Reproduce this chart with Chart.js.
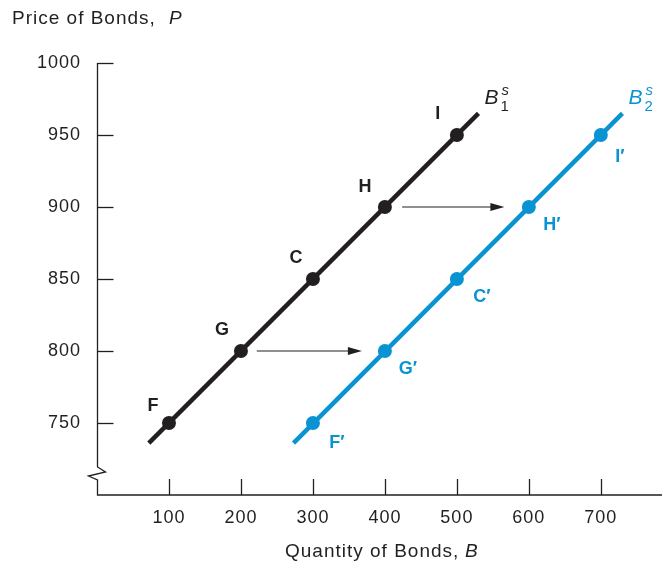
<!DOCTYPE html>
<html>
<head>
<meta charset="utf-8">
<script src="https://cdn.jsdelivr.net/npm/chart.js@4"></script>
<style>
  html, body { margin: 0; padding: 0; background: #fff; }
  #wrap { width: 662px; height: 565px; }
</style>
</head>
<body>
<div id="wrap"><canvas id="myChart" width="662" height="565"></canvas></div>
<script>
// bond supply shift: B1s -> B2s
const prices = [750, 800, 850, 900, 950];
const quantity1 = [100, 200, 300, 400, 500];
const quantity2 = [300, 400, 500, 600, 700];
const labels1 = ['F', 'G', 'C', 'H', 'I'];
const labels2 = ['F\u2032', 'G\u2032', 'C\u2032', 'H\u2032', 'I\u2032'];
const line1Ends = [{ x: 72, y: 736 }, { x: 530, y: 965 }];
const line2Ends = [{ x: 273, y: 736 }, { x: 730, y: 965 }];
const arrowFrom = [222, 424];
const arrowTo = [368, 566];
const arrowPrice = [800, 900];
const xTicks = [100, 200, 300, 400, 500, 600, 700];
const yTicks = [750, 800, 850, 900, 950, 1000];

const BLACK = '#231f20';
const BLUE = '#0a93d3';
const FONT = '"Liberation Sans", Arial, Helvetica, sans-serif';

const pts1 = quantity1.map((q, i) => ({ x: q, y: prices[i] }));
const pts2 = quantity2.map((q, i) => ({ x: q, y: prices[i] }));

const overlay = {
  id: 'overlay',
  beforeDraw(chart) {
    chart.ctx.letterSpacing = '1px';
  },
  beforeDatasetsDraw(chart) {
    const ctx = chart.ctx;
    const xs = chart.scales.x, ys = chart.scales.y;
    const a = chart.chartArea;
    ctx.save();
    ctx.strokeStyle = BLACK;
    ctx.lineWidth = 1.3;
    // y axis with break
    const x0 = a.left + 0.5;
    ctx.beginPath();
    ctx.moveTo(x0, a.top);
    ctx.lineTo(x0, 467);
    ctx.lineTo(x0 + 8, 472);
    ctx.lineTo(x0 - 9, 476);
    ctx.lineTo(x0, 480);
    ctx.lineTo(x0, a.bottom);
    ctx.lineTo(a.right, a.bottom);
    ctx.stroke();
    // y ticks (inside)
    yTicks.forEach(v => {
      const y = Math.round(ys.getPixelForValue(v)) + 0.5;
      ctx.beginPath();
      ctx.moveTo(x0, y);
      ctx.lineTo(x0 + 16, y);
      ctx.stroke();
    });
    xTicks.forEach(v => {
      const x = Math.round(xs.getPixelForValue(v)) + 0.5;
      ctx.beginPath();
      ctx.moveTo(x, a.bottom);
      ctx.lineTo(x, a.bottom - 16);
      ctx.stroke();
    });
    // arrows
    ctx.lineWidth = 1.2;
    ctx.fillStyle = BLACK;
    arrowPrice.forEach((p, i) => {
      const y = ys.getPixelForValue(p);
      const xa = xs.getPixelForValue(arrowFrom[i]);
      const xb = xs.getPixelForValue(arrowTo[i]);
      ctx.beginPath();
      ctx.moveTo(xa, y);
      ctx.lineTo(xb - 10, y);
      ctx.stroke();
      ctx.beginPath();
      ctx.moveTo(xb, y);
      ctx.lineTo(xb - 14, y - 4);
      ctx.lineTo(xb - 14, y + 4);
      ctx.closePath();
      ctx.fill();
    });
    ctx.restore();
  },
  afterDraw(chart) {
    const ctx = chart.ctx;
    const xs = chart.scales.x, ys = chart.scales.y;
    ctx.save();
    ctx.letterSpacing = '1px';
    ctx.fillStyle = BLACK;
    ctx.textBaseline = 'alphabetic';
    ctx.textAlign = 'left';
    // axis titles
    ctx.font = '19px ' + FONT;
    ctx.fillText('Price of Bonds,', 12, 24);
    ctx.font = 'italic 19px ' + FONT;
    ctx.fillText('P', 169, 24);
    ctx.font = '19px ' + FONT;
    ctx.fillText('Quantity of Bonds,', 285, 557);
    ctx.font = 'italic 19px ' + FONT;
    ctx.fillText('B', 465, 557);

    // point labels
    ctx.letterSpacing = '0px';
    ctx.textAlign = 'center';
    ctx.textBaseline = 'middle';
    ctx.font = 'bold 18px ' + FONT;
    const off1 = [[-16, -17], [-19, -21], [-17, -21], [-20, -20], [-19, -21]];
    const off2 = [[24, 20], [23, 18], [25, 18], [23, 18], [19, 22]];
    pts1.forEach((p, i) => {
      ctx.fillStyle = BLACK;
      ctx.fillText(labels1[i], xs.getPixelForValue(p.x) + off1[i][0], ys.getPixelForValue(p.y) + off1[i][1]);
    });
    pts2.forEach((p, i) => {
      ctx.fillStyle = BLUE;
      ctx.fillText(labels2[i], xs.getPixelForValue(p.x) + off2[i][0], ys.getPixelForValue(p.y) + off2[i][1]);
    });

    // curve labels B^s_1, B^s_2
    const curveLabel = (sub, color, end) => {
      const x = xs.getPixelForValue(end.x) + 6;
      const y = ys.getPixelForValue(end.y) - 9;
      ctx.fillStyle = color;
      ctx.textAlign = 'left';
      ctx.textBaseline = 'alphabetic';
      ctx.font = 'italic 21px ' + FONT;
      ctx.fillText('B', x, y);
      ctx.font = 'italic 15px ' + FONT;
      ctx.fillText('s', x + 17, y - 9);
      ctx.font = '15px ' + FONT;
      ctx.fillText(sub, x + 16, y + 7);
    };
    curveLabel('1', BLACK, line1Ends[1]);
    curveLabel('2', BLUE, line2Ends[1]);
    ctx.restore();
  }
};

const ctx = document.getElementById('myChart').getContext('2d');
const myChart = new Chart(ctx, {
  type: 'scatter',
  data: {
    datasets: [
      { data: line1Ends, showLine: true, borderColor: BLACK, borderWidth: 4.5, pointRadius: 0, clip: false },
      { data: line2Ends, showLine: true, borderColor: BLUE, borderWidth: 4.5, pointRadius: 0, clip: false },
      { data: pts1, showLine: false, backgroundColor: BLACK, borderColor: BLACK, pointRadius: 7, borderWidth: 0, clip: false },
      { data: pts2, showLine: false, backgroundColor: BLUE, borderColor: BLUE, pointRadius: 7, borderWidth: 0, clip: false }
    ]
  },
  options: {
    responsive: false,
    animation: false,
    layout: { autoPadding: false, padding: { top: 63, left: 0, right: 0, bottom: 0 } },
    plugins: { legend: { display: false }, tooltip: { enabled: false } },
    scales: {
      x: {
        type: 'linear',
        min: 0,
        max: 785,
        grid: { display: false, drawTicks: false },
        border: { display: false },
        afterBuildTicks: s => { s.ticks = xTicks.map(v => ({ value: v })); },
        afterFit: s => { s.height = 70; },
        ticks: { color: BLACK, padding: 12, maxRotation: 0, callback: v => String(v), font: { family: FONT, size: 18 } }
      },
      y: {
        type: 'linear',
        min: 700,
        max: 1000,
        grid: { display: false, drawTicks: false },
        border: { display: false },
        afterBuildTicks: s => { s.ticks = yTicks.map(v => ({ value: v })); },
        afterFit: s => { s.width = 97; },
        ticks: { color: BLACK, padding: 16, callback: v => String(v), font: { family: FONT, size: 18 } }
      }
    }
  },
  plugins: [overlay]
});
</script>
</body>
</html>
